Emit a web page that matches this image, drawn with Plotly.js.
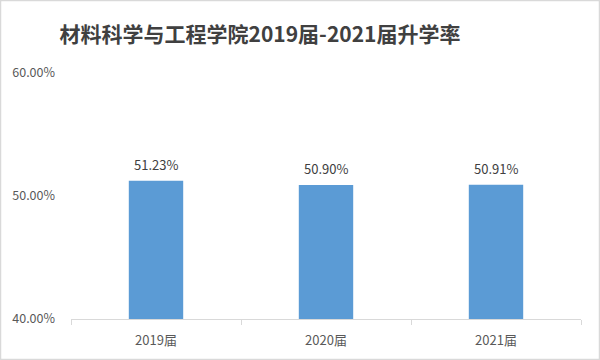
<!DOCTYPE html>
<html>
<head>
<meta charset="utf-8">
<script src="https://cdn.plot.ly/plotly-3.0.1.min.js"></script>
<style>html,body{margin:0;padding:0;background:#fff}#chart{width:600px;height:360px}</style>
</head>
<body>
<div id="chart"></div>
<script>
const categories = ['2019届', '2020届', '2021届'];
const rates = [0.5123, 0.5090, 0.5091];
const labels = ['51.23%', '50.90%', '50.91%'];
const yTicks = [0.4, 0.5, 0.6];
const yTickText = ['40.00%', '50.00%', '60.00%'];

const font = '"Noto Sans CJK SC", "Open Sans", sans-serif';
const L = 71, R = 19, T = 73, B = 41, W = 600, H = 360;
const pw = W - L - R, ph = H - T - B;

const annotations = categories.map((c, i) => ({
  x: c, y: rates[i], xref: 'x', yref: 'y',
  text: labels[i], showarrow: false,
  yanchor: 'bottom', yshift: 5,
  font: {family: font, size: 13, color: '#404040'}
}));

Plotly.newPlot('chart', [{
  type: 'bar',
  x: categories,
  y: rates,
  marker: {color: '#5b9bd5'},
  hoverinfo: 'none'
}], {
  width: W, height: H,
  margin: {l: L, r: R, t: T, b: B},
  paper_bgcolor: '#fff', plot_bgcolor: '#fff',
  bargap: 0.68,
  showlegend: false,
  annotations: annotations,
  title: {text: '<b>材料科学与工程学院2019届-2021届升学率</b>', x: 260/600, xanchor: 'center', xref: 'container', y: 1 - 35/360, yanchor: 'middle', yref: 'container',
          font: {family: font, size: 21, color: '#404040'}},
  xaxis: {
    showline: true, linecolor: '#d9d9d9', linewidth: 1,
    ticks: 'outside', tickson: 'boundaries', ticklen: 5, tickcolor: '#d9d9d9',
    ticklabelstandoff: 9,
    tickfont: {family: font, size: 13, color: '#595959'},
    showgrid: false, zeroline: false, fixedrange: true
  },
  yaxis: {
    range: [0.4, 0.6], tickvals: yTicks, ticktext: yTickText,
    showline: false, showgrid: false, zeroline: false, ticks: '',
    ticklabelstandoff: 15,
    tickfont: {family: font, size: 12.5, color: '#595959'},
    fixedrange: true
  },
  shapes: [{
    type: 'rect', xref: 'paper', yref: 'paper',
    x0: (-L + 0.5)/pw, x1: (W - L - 0.5)/pw,
    y0: (-B + 0.5)/ph, y1: (H - B - 0.5)/ph,
    line: {color: '#d9d9d9', width: 1.5}, fillcolor: 'rgba(0,0,0,0)', layer: 'above'
  }]
}, {displayModeBar: false, staticPlot: true});
</script>
</body>
</html>
